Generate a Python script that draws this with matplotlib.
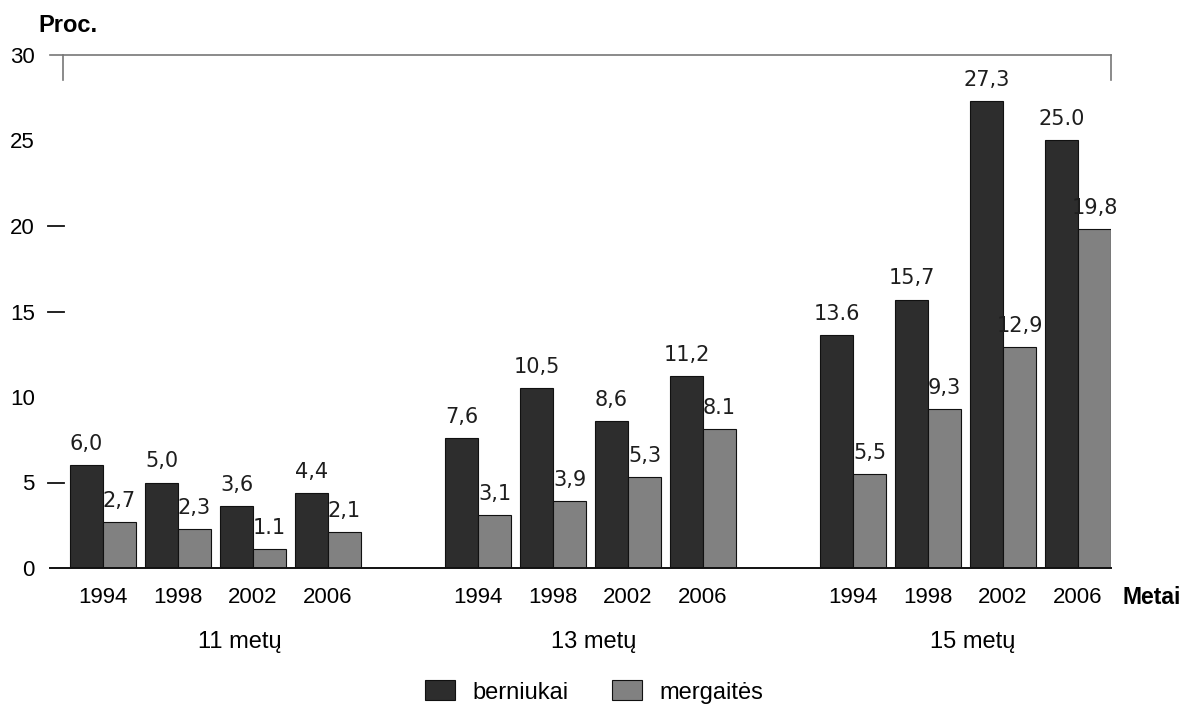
import matplotlib
matplotlib.use("Agg")
import matplotlib.pyplot as plt
import matplotlib.transforms as mtransforms
import numpy as np

plt.rcParams['font.family'] = ['Liberation Sans', 'DejaVu Sans']

groups = ["11 metų", "13 metų", "15 metų"]
years = ["1994", "1998", "2002", "2006"]
boys = [6.0, 5.0, 3.6, 4.4, 7.6, 10.5, 8.6, 11.2, 13.6, 15.7, 27.3, 25.0]
girls = [2.7, 2.3, 1.1, 2.1, 3.1, 3.9, 5.3, 8.1, 5.5, 9.3, 12.9, 19.8]
boys_labels = ["6,0", "5,0", "3,6", "4,4", "7,6", "10,5", "8,6", "11,2",
               "13.6", "15,7", "27,3", "25.0"]
girls_labels = ["2,7", "2,3", "1.1", "2,1", "3,1", "3,9", "5,3", "8.1",
                "5,5", "9,3", "12,9", "19,8"]
series_names = ["berniukai", "mergaitės"]
yticks = [0, 5, 10, 15, 20, 25, 30]

boys_color = "#2d2d2d"
girls_color = "#818181"

fig = plt.figure(figsize=(11.82, 7.04), dpi=100)
ax = fig.add_axes([50 / 1182, (704 - 568) / 704, 1061 / 1182, 513 / 704])

n_years = len(years)
pos = np.array([i + 5 * g for g in range(len(groups)) for i in range(n_years)], dtype=float)
w = 0.44

b1 = ax.bar(pos - w / 2, boys, width=w, color=boys_color, edgecolor="#111111",
            linewidth=0.8, label=series_names[0])
b2 = ax.bar(pos + w / 2, girls, width=w, color=girls_color, edgecolor="#111111",
            linewidth=0.8, label=series_names[1])
ax.bar_label(b1, labels=boys_labels, padding=8, fontsize=15, color="#1e1e1e",
             family="DejaVu Sans")
ax.bar_label(b2, labels=girls_labels, padding=8, fontsize=15, color="#1e1e1e",
             family="DejaVu Sans")

ax.set_xlim(-0.707, 13.44)
ax.set_ylim(0, 30)

for s in ["top", "left", "right"]:
    ax.spines[s].set_visible(False)
ax.spines["bottom"].set_linewidth(1.4)
ax.spines["bottom"].set_color("#111111")

ax.set_yticks(yticks)
ax.set_yticklabels([str(t) for t in yticks], fontsize=16)
ax.tick_params(axis="y", length=0, pad=11)
ax.set_xticks(pos)
ax.set_xticklabels(years * len(groups), fontsize=16)
ax.tick_params(axis="x", length=0, pad=14)

# top frame line and short verticals
ax.axhline(30, color="#777777", linewidth=1.2, clip_on=False)
ax.plot([0.0123, 0.0123], [1.0, 0.951], transform=ax.transAxes, color="#777777",
        linewidth=1.2, clip_on=False)
ax.plot([1.0, 1.0], [1.0, 0.951], transform=ax.transAxes, color="#777777",
        linewidth=1.2, clip_on=False)

# short tick dashes
trans_y = mtransforms.blended_transform_factory(ax.transAxes, ax.transData)
for t in [5, 15, 20]:
    ax.plot([-0.002, 0.0135], [t, t], transform=trans_y, color="#111111",
            linewidth=1.3, clip_on=False)

# group labels
trans_x = mtransforms.blended_transform_factory(ax.transData, ax.transAxes)
label_offsets = [0.32, 0.04, 0.09]
for g, name in enumerate(groups):
    cx = pos[g * n_years:(g + 1) * n_years].mean() + label_offsets[g]
    ax.text(cx, -0.145, name, transform=trans_x, ha="center", va="center",
            fontsize=17)

fig.text(1181 / 1182, 1 - 597 / 704, "Metai", ha="right", va="center",
         fontsize=16.5, fontweight="bold")
fig.text(38 / 1182, 1 - 25 / 704, "Proc.", ha="left", va="center",
         fontsize=17, fontweight="bold")

fig.legend(handles=[b1, b2], labels=series_names, loc="center",
           bbox_to_anchor=(0.5025, 1 - 692 / 704), ncol=2, frameon=False,
           fontsize=17, handlelength=1.27, handleheight=0.93,
           handletextpad=0.72, columnspacing=1.86, borderaxespad=0, borderpad=0)

fig.savefig("out.png", dpi=100)
